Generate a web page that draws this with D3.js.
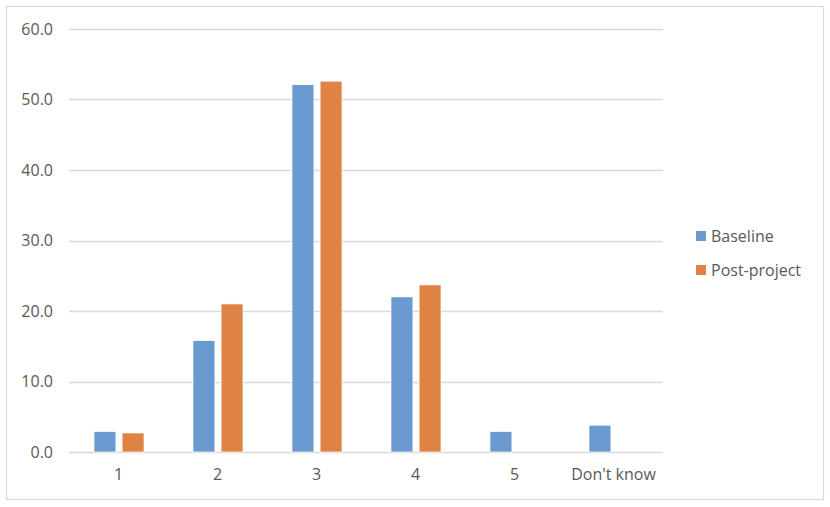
<!DOCTYPE html>
<html>
<head>
<meta charset="utf-8">
<script src="https://cdn.jsdelivr.net/npm/d3@7"></script>
<style>
  body { margin: 0; background: #fff; }
  svg text { font-family: "Open Sans", "Noto Sans", sans-serif; fill: #595959; }
</style>
</head>
<body>
<svg id="chart" width="830" height="507"></svg>
<script>
// categories and series
var categories = ["1", "2", "3", "4", "5", "Don't know"];
var seriesNames = ["Baseline", "Post-project"];
var baseline = [2.9, 15.8, 52.1, 22.0, 2.9, 3.8];
var postProject = [2.7, 21.0, 52.6, 23.7, 0, 0];
var yTicks = [0, 10, 20, 30, 40, 50, 60];
var colours = ["#6999ce", "#df8344"];

var svg = d3.select("#chart"),
  margin = { left: 69, right: 167, top: 29, bottom: 55 },
  width = 830 - margin.left - margin.right,
  height = 507 - margin.top - margin.bottom;

// outer frame
svg.append("rect")
  .attr("x", 6.5).attr("y", 6.5)
  .attr("width", 817).attr("height", 493)
  .attr("fill", "#fff")
  .attr("stroke", "#d9d9d9")
  .attr("stroke-width", 1.2);

var g = svg.append("g")
  .attr("transform", "translate(" + margin.left + "," + margin.top + ")");

var x = d3.scaleBand().domain(categories).range([0, width]);
var x1 = d3.scaleBand().domain(seriesNames).range([25, x.bandwidth() - 24]).paddingInner(0.22);
var y = d3.scaleLinear().domain([0, 60]).range([height, 0]);

// gridlines
g.selectAll(".grid")
  .data(yTicks)
  .enter().append("line")
  .attr("class", "grid")
  .attr("x1", 0).attr("x2", width)
  .attr("y1", function (d) { return Math.round(y(d)) + 0.5; })
  .attr("y2", function (d) { return Math.round(y(d)) + 0.5; })
  .attr("stroke", "#d9d9d9")
  .attr("stroke-width", 1.3);

// y axis labels
var yAxis = d3.axisLeft(y).tickValues(yTicks).tickFormat(d3.format(".1f")).tickSize(0).tickPadding(16);
g.append("g").call(yAxis)
  .call(function (a) { a.select(".domain").remove(); })
  .selectAll("text")
  .attr("font-size", "16px")
  .style("fill", "#595959");

// x axis labels
var xAxis = d3.axisBottom(x).tickSize(0).tickPadding(17);
g.append("g").attr("transform", "translate(0," + height + ")").call(xAxis)
  .call(function (a) { a.select(".domain").remove(); })
  .selectAll("text")
  .attr("font-size", "16px")
  .style("fill", "#595959");

var rows = categories.map(function (c, i) {
  return { cat: c, values: [baseline[i], postProject[i]] };
});

var groups = g.selectAll(".cat")
  .data(rows)
  .enter().append("g")
  .attr("class", "cat")
  .attr("transform", function (d) { return "translate(" + x(d.cat) + ",0)"; });

groups.selectAll("rect")
  .data(function (d) {
    return d.values.map(function (v, i) { return { name: seriesNames[i], value: v, i: i }; });
  })
  .enter().append("rect")
  .filter(function (d) { return d.value > 0; })
  .attr("x", function (d) { return x1(d.name); })
  .attr("width", x1.bandwidth())
  .attr("y", function (d) { return y(d.value); })
  .attr("height", function (d) { return height - y(d.value); })
  .attr("fill", function (d) { return colours[d.i]; })
  .attr("stroke", "#fff")
  .attr("stroke-width", 0.7);

// legend
var legend = svg.append("g").attr("transform", "translate(696,231)");
var items = legend.selectAll(".item")
  .data(seriesNames)
  .enter().append("g")
  .attr("class", "item")
  .attr("transform", function (d, i) { return "translate(0," + i * 34 + ")"; });
items.append("rect")
  .attr("width", 10).attr("height", 10)
  .attr("fill", function (d, i) { return colours[i]; });
items.append("text")
  .attr("x", 15).attr("y", 5)
  .attr("dy", "0.35em")
  .attr("font-size", "16px")
  .text(function (d) { return d; });
</script>
</body>
</html>
